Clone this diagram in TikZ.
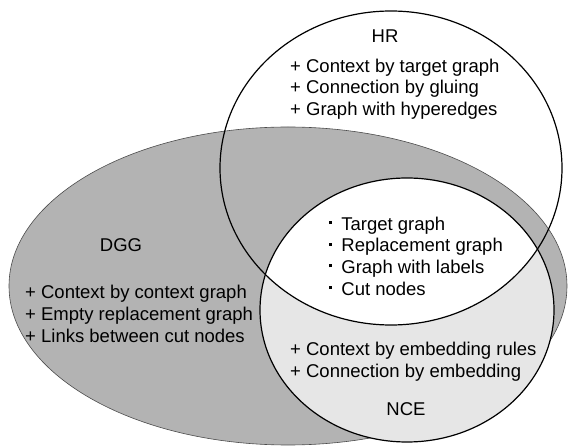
\documentclass[tikz,border=0pt]{standalone}
\usepackage{fontspec}
\setmainfont{Liberation Sans}
\definecolor{dggfill}{HTML}{B3B3B3}
\definecolor{ncefill}{HTML}{E6E6E6}
\newcommand{\sqbullet}{\raisebox{6pt}{\rule{3.2pt}{3.2pt}}\hspace{9pt}}
\begin{document}
\begin{tikzpicture}[x=1pt,y=-1pt,
  settext/.style={font=\fontsize{18.5}{21.7}\selectfont, inner sep=0pt},
  listtext/.style={settext, align=left, anchor=west},
  titletext/.style={settext, anchor=center},
  ringline/.style={draw=black, line width=1.2pt}]
\useasboundingbox (0,0) rectangle (568,446);
% set HR, drawn first so DGG covers their overlap
\fill[white] (391,168) ellipse [x radius=171, y radius=157];
% set DGG
\fill[dggfill] (288,286) ellipse [x radius=279, y radius=159];
\draw[black!70, line width=0.6pt] (288,286) ellipse [x radius=279, y radius=159];
% set NCE
\fill[ncefill] (407,310) ellipse [x radius=147, y radius=132];
% HR and NCE in common
\begin{scope}
  \clip (407,310) ellipse [x radius=147, y radius=132];
  \fill[white] (391,168) ellipse [x radius=171, y radius=157];
\end{scope}
\draw[ringline] (407,310) ellipse [x radius=147, y radius=132];
\draw[ringline] (391,168) ellipse [x radius=171, y radius=157];

% labels
\node[titletext] (hr) at (385,36) {HR};
\node[listtext] (hrlist) at (290,89) {+ Context by target graph\\+ Connection by gluing\\+ Graph with hyperedges};
\node[listtext] (common) at (329,256) {\sqbullet Target graph\\\sqbullet Replacement graph\\\sqbullet Graph with labels\\\sqbullet Cut nodes};
\node[titletext] (dgg) at (121,245) {DGG};
\node[listtext] (dgglist) at (25,314) {+ Context by context graph\\+ Empty replacement graph\\+ Links between cut nodes};
\node[listtext] (ncelist) at (290,362) {+ Context by embedding rules\\+ Connection by embedding};
\node[titletext] (nce) at (406,409) {NCE};
\end{tikzpicture}
\end{document}
